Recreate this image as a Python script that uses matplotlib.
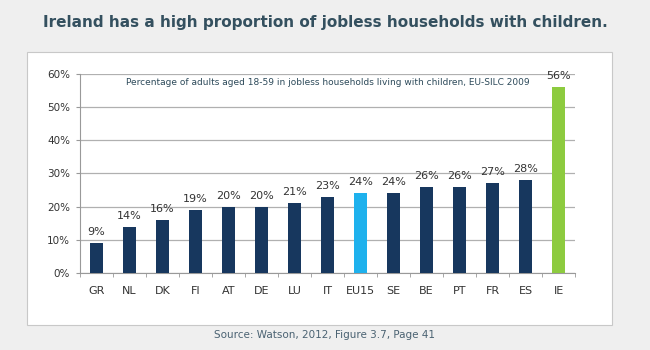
import matplotlib.pyplot as plt
from matplotlib.patches import Rectangle
import numpy as np

# data
countries = ["GR", "NL", "DK", "FI", "AT", "DE", "LU", "IT", "EU15",
             "SE", "BE", "PT", "FR", "ES", "IE"]
values = [9, 14, 16, 19, 20, 20, 21, 23, 24, 24, 26, 26, 27, 28, 56]
y_ticks = [0, 10, 20, 30, 40, 50, 60]

NAVY = "#17375e"
colors = [NAVY] * len(countries)
colors[countries.index("EU15")] = "#1eb1ed"
colors[countries.index("IE")] = "#8dcb3f"

fig = plt.figure(figsize=(6.5, 3.5), dpi=100)
fig.patch.set_facecolor("#efefef")

# white panel behind the chart
panel = Rectangle((0.042, 0.071), 0.900, 0.78, transform=fig.transFigure,
                  facecolor="white", edgecolor="#c8c8c8", lw=0.8, zorder=-10)
fig.patches.append(panel)

fig.text(0.5, 0.935, "Ireland has a high proportion of jobless households with children.",
         ha="center", va="center", fontsize=11, fontweight="bold",
         color="#34505f", family="DejaVu Sans")
fig.text(0.5, 0.043, "Source: Watson, 2012, Figure 3.7, Page 41",
         ha="center", va="center", fontsize=7.5, color="#4a6272")

ax = fig.add_axes([0.123, 0.22, 0.762, 0.569])
ax.set_facecolor("none")
x = np.arange(len(countries))
ax.bar(x, values, width=0.4, color=colors, zorder=3)

for xi, v in zip(x, values):
    ax.text(xi, v + 1.8, f"{v}%", ha="center", va="bottom", fontsize=8,
            color="#333333", zorder=4)

ax.set_xlim(-0.5, len(countries) - 0.5)
ax.set_ylim(0, 60)
ax.set_yticks(y_ticks)
ax.set_yticklabels([f"{t}%" for t in y_ticks])
ax.set_xticks(x)
ax.set_xticklabels(countries)
ax.set_xticks(np.arange(-0.5, len(countries)), minor=True)
ax.tick_params(axis="x", which="major", length=0, pad=9, labelsize=8,
               colors="#333333")
ax.tick_params(axis="x", which="minor", length=3, color="#999999")
ax.tick_params(axis="y", length=3, color="#999999", labelsize=7.5,
               colors="#333333", pad=4)
ax.yaxis.grid(True, color="#b0b0b0", lw=0.9, zorder=0)
ax.set_axisbelow(True)

for side in ["top", "right"]:
    ax.spines[side].set_visible(False)
for side in ["left", "bottom"]:
    ax.spines[side].set_color("#999999")

ax.text(0.5, 0.955, "Percentage of adults aged 18-59 in jobless households living with children, EU-SILC 2009",
        transform=ax.transAxes, ha="center", va="center", fontsize=6.5,
        color="#2d4a5a", zorder=5)

fig.savefig("out.png", dpi=100, facecolor=fig.get_facecolor())
